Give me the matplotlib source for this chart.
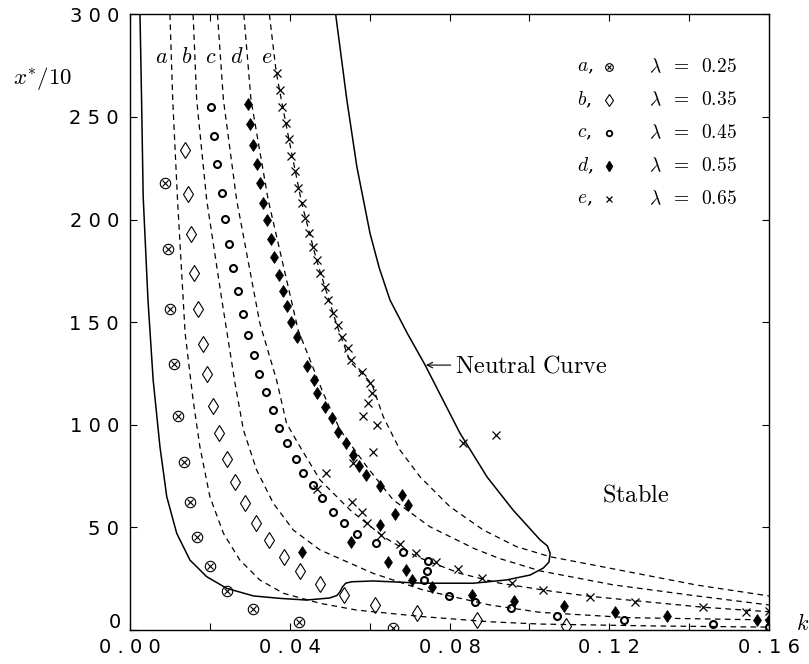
import matplotlib
matplotlib.use('Agg')
import matplotlib.pyplot as plt
import numpy as np

plt.rcParams['mathtext.fontset'] = 'cm'
plt.rcParams['font.family'] = ['DejaVu Sans']

# ---- data (k, x*/10) ----
# measured points
a_k = [0.0088, 0.0094, 0.0100, 0.0110, 0.0119, 0.0134, 0.0149, 0.0169, 0.0200, 0.0242, 0.0309, 0.0423, 0.0658]
a_x = [217.8, 185.7, 156.3, 129.5, 104.4, 82.0, 62.5, 45.5, 31.3, 19.2, 10.2, 4.1, 0.8]

b_k = [0.0138, 0.0146, 0.0153, 0.0161, 0.0171, 0.0182, 0.0194, 0.0209, 0.0224, 0.0242, 0.0263,
       0.0288, 0.0315, 0.0348, 0.0386, 0.0426, 0.0476, 0.0537, 0.0613, 0.0718, 0.0868, 0.1091]
b_x = [233.9, 212.5, 193.0, 174.1, 156.4, 139.4, 124.6, 109.2, 95.8, 83.3, 72.3,
       61.7, 52.0, 43.9, 35.7, 28.6, 22.3, 17.1, 12.2, 8.1, 4.9, 2.0]

c_k = [0.0203, 0.0211, 0.0219, 0.0230, 0.0238, 0.0249, 0.0259, 0.0271, 0.0282, 0.0296, 0.0310,
       0.0324, 0.0341, 0.0357, 0.0374, 0.0394, 0.0416, 0.0434, 0.0457, 0.0482, 0.0509, 0.0536,
       0.0569, 0.0616, 0.0684, 0.0745, 0.0743, 0.0735, 0.0799, 0.0864, 0.0954, 0.1070, 0.1237,
       0.1459, 0.1600]
c_x = [255.0, 240.7, 227.0, 213.1, 200.3, 188.0, 176.6, 165.4, 154.0, 143.8, 134.0,
       124.8, 115.8, 107.2, 98.6, 91.0, 83.3, 76.7, 70.7, 64.2, 57.7, 52.3,
       46.6, 42.2, 37.9, 33.6, 28.9, 24.4, 16.6, 13.5, 10.6, 7.0, 4.9,
       2.9, 1.6]

d_k = [0.0295, 0.0301, 0.0308, 0.0317, 0.0325, 0.0334, 0.0342, 0.0352, 0.0361, 0.0374, 0.0382,
       0.0392, 0.0402, 0.0419, 0.0444, 0.0461, 0.0469, 0.0488, 0.0507, 0.0522, 0.0540, 0.0558,
       0.0573, 0.0590, 0.0626, 0.0680, 0.0697, 0.0663, 0.0626, 0.0553, 0.0431, 0.0647, 0.0690,
       0.0707, 0.0757, 0.0857, 0.0962, 0.1087, 0.1214, 0.1344, 0.1570, 0.1600]
d_x = [256.3, 246.6, 236.4, 227.0, 217.7, 208.0, 199.8, 190.4, 181.9, 173.0, 165.2,
       157.9, 150.2, 142.6, 128.7, 121.8, 115.3, 108.8, 103.2, 96.6, 91.3, 85.3,
       80.1, 75.5, 70.2, 65.8, 60.9, 56.4, 51.2, 43.0, 38.2, 33.3, 29.2,
       24.4, 20.8, 17.1, 14.3, 11.9, 8.9, 7.0, 4.9, 4.9]

e_k = [0.0369, 0.0376, 0.0381, 0.0390, 0.0398, 0.0403, 0.0413, 0.0421, 0.0430, 0.0438, 0.0449,
       0.0457, 0.0467, 0.0476, 0.0488, 0.0497, 0.0509, 0.0522, 0.0530, 0.0547, 0.0553, 0.0580,
       0.0601, 0.0605, 0.0597, 0.0583, 0.0619, 0.0608, 0.0559, 0.0492, 0.0469, 0.0555, 0.0580,
       0.0593, 0.0628, 0.0676, 0.0716, 0.0765, 0.0822, 0.0882, 0.0956, 0.1035, 0.0835, 0.0916,
       0.1152, 0.1264, 0.1435, 0.1542, 0.1600]
e_x = [271.6, 263.2, 255.0, 246.9, 239.1, 231.2, 223.7, 215.6, 208.0, 200.6, 193.3,
       186.8, 180.3, 173.8, 167.3, 160.8, 154.3, 148.6, 142.9, 137.2, 131.5, 125.8,
       120.4, 115.3, 110.5, 104.4, 99.9, 86.9, 81.2, 76.3, 68.7, 62.2, 57.3,
       52.0, 46.3, 41.9, 37.4, 33.3, 29.6, 25.5, 22.8, 19.5, 91.0, 95.0,
       16.2, 13.8, 11.1, 8.9, 9.4]

# dashed theoretical curves
la_k = [0.0100, 0.0107, 0.0119, 0.0138, 0.0158, 0.0175, 0.0200, 0.0234, 0.0275, 0.0325, 0.0384,
        0.0476, 0.0568, 0.0734, 0.0901, 0.1027, 0.1300, 0.1600]
la_x = [300.0, 258.3, 209.6, 144.7, 112.1, 89.3, 65.0, 47.1, 34.1, 24.4, 17.9,
        13.0, 9.7, 6.5, 4.0, 2.9, 2.0, 1.4]

lb_k = [0.0158, 0.0167, 0.0192, 0.0230, 0.0263, 0.0284, 0.0317, 0.0359, 0.0409, 0.0476, 0.0609,
        0.0734, 0.0901, 0.1027, 0.1252, 0.1600]
lb_x = [300.0, 258.3, 209.6, 160.8, 120.2, 97.5, 78.0, 61.7, 48.7, 39.0, 27.6,
        19.5, 12.2, 8.6, 6.0, 4.9]

lc_k = [0.0219, 0.0234, 0.0267, 0.0325, 0.0367, 0.0392, 0.0426, 0.0476, 0.0551, 0.0634, 0.0718,
        0.0826, 0.0926, 0.1052, 0.1152, 0.1435, 0.1600]
lc_x = [300.0, 258.3, 209.6, 149.6, 121.8, 100.7, 89.2, 73.1, 58.5, 45.5, 35.7,
        27.6, 22.8, 19.0, 16.4, 11.1, 8.9]

ld_k = [0.0285, 0.0303, 0.0346, 0.0421, 0.0484, 0.0526, 0.0593, 0.0659, 0.0751, 0.0864, 0.0926,
        0.1027, 0.1210, 0.1419, 0.1600]
ld_x = [300.0, 258.3, 209.6, 146.2, 115.3, 97.5, 79.6, 63.4, 50.3, 39.5, 34.8,
        28.8, 22.0, 16.6, 12.2]

le_k = [0.0349, 0.0366, 0.0379, 0.0398, 0.0430, 0.0467, 0.0518, 0.0551, 0.0605, 0.0634, 0.0676,
        0.0726, 0.0801, 0.0885, 0.0968, 0.1052, 0.1210, 0.1419, 0.1600]
le_x = [300.0, 272.0, 258.3, 239.1, 208.0, 180.3, 148.6, 130.8, 120.2, 104.0, 87.7,
        74.7, 60.1, 48.7, 40.6, 35.7, 29.8, 21.9, 16.6]

# neutral curve
neutral_k = [0.0025, 0.0029, 0.0033, 0.0045, 0.0058, 0.0075, 0.0092, 0.0117, 0.0150, 0.0192,
             0.0242, 0.0309, 0.0376, 0.0442, 0.0500, 0.0518, 0.0526, 0.0532, 0.0540, 0.0555,
             0.0609, 0.0734, 0.0860, 0.0943, 0.1002, 0.1035, 0.1049, 0.1052, 0.1045, 0.1027,
             0.0959, 0.0894, 0.0826, 0.0781, 0.0739, 0.0694, 0.0651, 0.0624, 0.0601, 0.0568,
             0.0543, 0.0515]
neutral_x = [300.0, 258.3, 211.2, 160.8, 121.8, 89.3, 65.0, 47.1, 34.1, 26.0,
             20.3, 16.6, 15.4, 14.6, 15.6, 16.8, 18.7, 21.0, 22.8, 23.5,
             23.9, 22.8, 22.8, 24.4, 26.8, 30.2, 33.1, 37.4, 41.0, 43.9,
             58.5, 74.6, 96.0, 113.1, 129.1, 144.7, 160.8, 176.5, 193.3, 225.8,
             258.3, 300.0]

x_ticks = [0.00, 0.02, 0.04, 0.06, 0.08, 0.10, 0.12, 0.14, 0.16]
y_ticks = [0, 50, 100, 150, 200, 250, 300]
lambdas = ['0.25', '0.35', '0.45', '0.55', '0.65']
letters = ['a', 'b', 'c', 'd', 'e']


def spaced(s):
    return ' '.join(s)


fig = plt.figure(figsize=(8.09, 6.64), dpi=100)
ax = fig.add_axes([130 / 809, 34 / 664, 639 / 809, 615.6 / 664])

dash = dict(color='k', lw=0.9, dashes=(4.5, 3.5))
for kk, xx in [(la_k, la_x), (lb_k, lb_x), (lc_k, lc_x), (ld_k, ld_x), (le_k, le_x)]:
    ax.plot(kk, xx, **dash)
ax.plot(neutral_k, neutral_x, color='k', lw=1.1)

# markers
ax.plot(a_k, a_x, 'o', ms=7.5, mfc='none', mec='k', mew=0.8)
ax.plot(a_k, a_x, 'x', ms=4.5, mec='k', mew=0.8)
ax.plot(b_k, b_x, 'd', ms=8, mfc='none', mec='k', mew=0.8)
ax.plot(c_k, c_x, 'o', ms=5, mfc='none', mec='k', mew=1.5)
ax.plot(d_k, d_x, 'd', ms=6.5, mfc='k', mec='k', mew=0.5)
ax.plot(e_k, e_x, 'x', ms=5.5, mec='k', mew=0.9)

ax.set_xlim(0, 0.16)
ax.set_ylim(0, 300)
ax.set_xticks(x_ticks)
ax.set_xticklabels([spaced(f'{t:.2f}') if i % 2 == 0 else '' for i, t in enumerate(x_ticks)])
ax.set_yticks(y_ticks)
ax.set_yticklabels(['' if t == 0 else spaced(str(t)) for t in y_ticks])
ax.tick_params(direction='in', top=True, right=True, length=5, width=0.8,
               labelsize=14)
ax.tick_params(axis='x', pad=6)
ax.tick_params(axis='y', pad=8)
for sp in ax.spines.values():
    sp.set_linewidth(1.0)
# the y "0" sits a little higher than the others, above the "0.00"
fig.text(121 / 809, 1 - 622 / 664, '0', fontsize=14, ha='right', va='center')

# curve letters at the top
for lab, kx in zip(letters, [0.0080, 0.0143, 0.0203, 0.0268, 0.0343]):
    ax.text(kx, 279, f'${lab}$', fontsize=16, ha='center', va='center')

# legend block
rows = [0.9146, 0.861, 0.8074, 0.7537, 0.7001]
for lab, lam, y in zip(letters, lambdas, rows):
    ax.text(0.700, y, f'${lab}$,', fontsize=14, ha='left', va='center', transform=ax.transAxes,
            family='DejaVu Serif')
    ax.text(0.812, y, rf'$\lambda\;\;=\;\;{lam}$', fontsize=14, ha='left', va='center',
            transform=ax.transAxes)
kw = dict(transform=ax.transAxes, clip_on=False, color='k')
ax.plot(0.750, rows[0], 'o', ms=5.5, mfc='none', mew=0.8, **kw)
ax.plot(0.750, rows[0], 'x', ms=3.5, mew=0.8, **kw)
ax.plot(0.750, rows[1], 'd', ms=6, mfc='none', mew=0.8, **kw)
ax.plot(0.750, rows[2], 'o', ms=4, mfc='none', mew=1.3, **kw)
ax.plot(0.750, rows[3], 'd', ms=5.5, **kw)
ax.plot(0.750, rows[4], 'x', ms=4.5, mew=0.9, **kw)

ax.annotate('', xy=(0.0734, 129.1), xytext=(0.0810, 129.1),
            arrowprops=dict(arrowstyle='->', lw=0.8, color='k'))
ax.text(0.0814, 129.1, r'$\mathrm{Neutral\ Curve}$', fontsize=17.5, ha='left', va='center')
ax.text(0.1265, 66, r'$\mathrm{Stable}$', fontsize=17.5, ha='center', va='center')

fig.text(43 / 809, 1 - 79 / 664, r'$x^{*}/10$', fontsize=16.5, ha='center', va='center')
fig.text(803 / 809, 1 - 624 / 664, r'$k$', fontsize=16, ha='center', va='center')

plt.savefig('out.png', dpi=100)
plt.close()
